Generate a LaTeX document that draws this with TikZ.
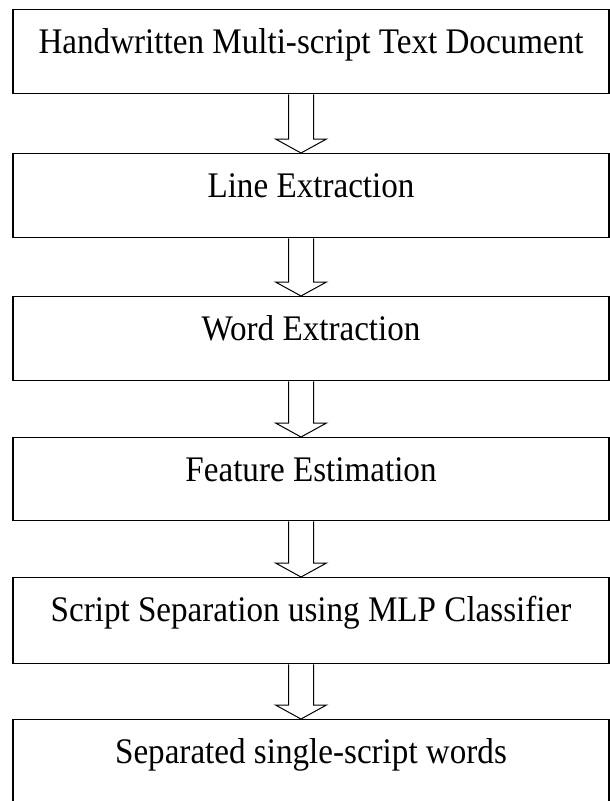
\documentclass[tikz,border=0pt]{standalone}
\usepackage{fontspec}
\setmainfont[FakeStretch=0.92]{Liberation Serif}
\usetikzlibrary{calc}

\begin{document}
\begin{tikzpicture}[x=1pt, y=1pt,
    stage/.style={rectangle, draw, line width=1.4pt, minimum width=596pt, inner sep=0pt, text height=44pt, text depth=40pt, anchor=north, font=\fontsize{36}{40}\selectfont},
    arrow/.style={line width=1pt, line join=miter}
]
\useasboundingbox (0,0) rectangle (610,-801);

% Stages
\node[stage] (doc) at (311,-9) {Handwritten Multi-script Text Document};
\node[stage] (line) at (311,-153) {Line Extraction};
\node[stage] (word) at (311,-296) {Word Extraction};
\node[stage, text depth=39pt] (feat) at (311,-437) {Feature Estimation};
\node[stage, text depth=42pt] (mlp) at (311,-577) {Script Separation using MLP Classifier};
\node[stage] (out) at (311,-719) {Separated single-script words};

% Hollow arrows between stages
\draw[arrow] ($(doc.south)+(-22.5,0)$) -- ($(line.north)+(-22.5,14)$) -- ($(line.north)+(-35.5,14)$) -- ($(line.north)+(-10,0)$) -- ($(line.north)+(15.5,14)$) -- ($(line.north)+(2.5,14)$) -- ($(doc.south)+(2.5,0)$);
\draw[arrow] ($(line.south)+(-22.5,0)$) -- ($(word.north)+(-22.5,14)$) -- ($(word.north)+(-35.5,14)$) -- ($(word.north)+(-10,0)$) -- ($(word.north)+(15.5,14)$) -- ($(word.north)+(2.5,14)$) -- ($(line.south)+(2.5,0)$);
\draw[arrow] ($(word.south)+(-22.5,0)$) -- ($(feat.north)+(-22.5,14)$) -- ($(feat.north)+(-35.5,14)$) -- ($(feat.north)+(-10,0)$) -- ($(feat.north)+(15.5,14)$) -- ($(feat.north)+(2.5,14)$) -- ($(word.south)+(2.5,0)$);
\draw[arrow] ($(feat.south)+(-22.5,0)$) -- ($(mlp.north)+(-22.5,14)$) -- ($(mlp.north)+(-35.5,14)$) -- ($(mlp.north)+(-10,0)$) -- ($(mlp.north)+(15.5,14)$) -- ($(mlp.north)+(2.5,14)$) -- ($(feat.south)+(2.5,0)$);
\draw[arrow] ($(mlp.south)+(-22.5,0)$) -- ($(out.north)+(-22.5,14)$) -- ($(out.north)+(-35.5,14)$) -- ($(out.north)+(-10,0)$) -- ($(out.north)+(15.5,14)$) -- ($(out.north)+(2.5,14)$) -- ($(mlp.south)+(2.5,0)$);

\end{tikzpicture}
\end{document}
